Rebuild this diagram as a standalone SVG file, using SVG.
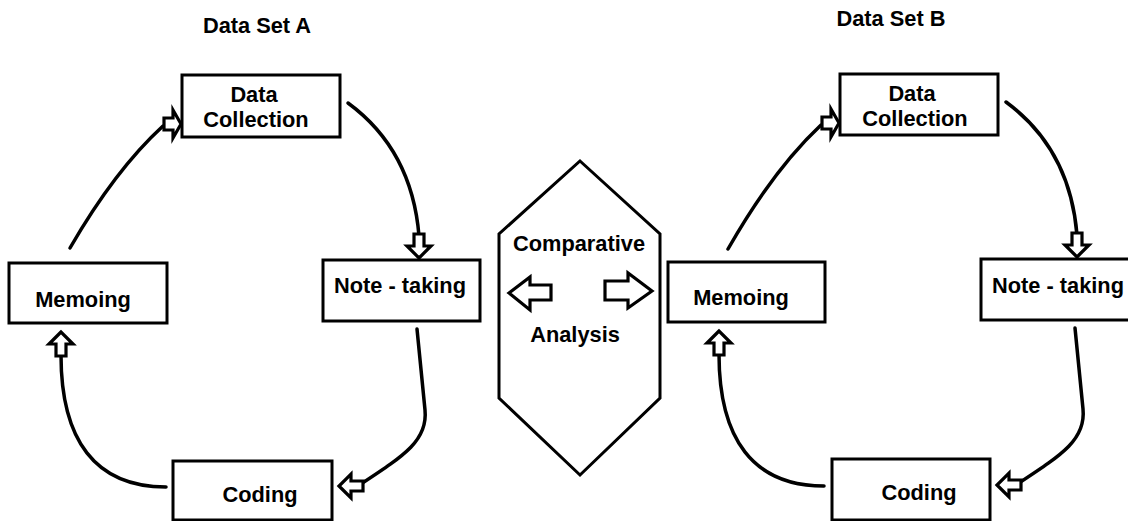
<svg xmlns="http://www.w3.org/2000/svg" width="1128" height="521" viewBox="0 0 1128 521">
<style>
.box{fill:#fff;stroke:#000;stroke-width:3}
.t{font-family:"Liberation Sans",Arial,sans-serif;font-weight:bold;font-size:21.8px;fill:#000;text-anchor:middle}
.ln{fill:none;stroke:#000;stroke-width:3.5;stroke-linecap:round}
.ah{fill:#fff;stroke:#000;stroke-width:3.2;stroke-linejoin:miter}
</style>
<defs>
<polygon id="arr" points="0,0 -12,-12 -12,-5 -24,-5 -24,5 -12,5 -12,12"/>
<polygon id="arrTall" points="0,0 -8,-14 -8,-6 -17,-6 -17,6 -8,6 -8,14"/>
</defs>
<rect width="1128" height="521" fill="#fff"/>
<text class="t" x="257" y="33">Data Set A</text>
<text class="t" x="891" y="26">Data Set B</text>

<g id="connectors">
<path class="ln" d="M70,248 Q115,170 163,126"/>
<path class="ln" d="M348,103 Q412,150 419,236"/>
<path class="ln" d="M417,329 L425,410 C428,440 405,455 361,484"/>
<path class="ln" d="M166,487 C95,487 61,440 61,355"/>
<path class="ln" d="M728,249 Q773,170 821,125"/>
<path class="ln" d="M1006,102 Q1070,149 1077,235"/>
<path class="ln" d="M1075,328 L1083,409 C1086,439 1063,454 1019,483"/>
<path class="ln" d="M824,486 C753,486 719,439 719,354"/>
<use href="#arrTall" class="ah" transform="translate(181,124)"/>
<use href="#arr" class="ah" transform="translate(419,258) rotate(90)"/>
<use href="#arr" class="ah" transform="translate(339,486) rotate(180)"/>
<use href="#arr" class="ah" transform="translate(61,332) rotate(-90)"/>
<use href="#arrTall" class="ah" transform="translate(839,123)"/>
<use href="#arr" class="ah" transform="translate(1077,257) rotate(90)"/>
<use href="#arr" class="ah" transform="translate(997,485) rotate(180)"/>
<use href="#arr" class="ah" transform="translate(719,331) rotate(-90)"/>
</g>

<g id="a-data-collection">
<rect class="box" x="182" y="75" width="158" height="62"/>
<text class="t" x="254" y="102">Data</text>
<text class="t" x="256" y="127">Collection</text>
</g>
<g id="a-note-taking">
<rect class="box" x="323" y="260" width="157" height="61"/>
<text class="t" x="400" y="293">Note - taking</text>
</g>
<g id="a-coding">
<rect class="box" x="173" y="461" width="159" height="59"/>
<text class="t" x="260" y="502">Coding</text>
</g>
<g id="a-memoing">
<rect class="box" x="9" y="263" width="158" height="60"/>
<text class="t" x="83" y="307">Memoing</text>
</g>

<g id="comparative-analysis">
<polygon points="580,161 660,234 660,398 580,475 499,398 499,234" fill="#fff" stroke="#000" stroke-width="3" stroke-linejoin="miter"/>
<text class="t" x="579" y="251">Comparative</text>
<text class="t" x="575" y="342">Analysis</text>
<polygon class="ah" points="509,293 530,277 530,285 551,285 551,300 530,300 530,310"/>
<polygon class="ah" points="652,291 628,273 628,281 605,281 605,300 628,300 628,308"/>
</g>

<g id="b-data-collection">
<rect class="box" x="840" y="74" width="158" height="61"/>
<text class="t" x="912" y="101">Data</text>
<text class="t" x="915" y="126">Collection</text>
</g>
<g id="b-note-taking">
<rect class="box" x="981" y="259" width="150" height="61"/>
<text class="t" x="1058" y="293">Note - taking</text>
</g>
<g id="b-coding">
<rect class="box" x="832" y="459" width="158" height="61"/>
<text class="t" x="919" y="500">Coding</text>
</g>
<g id="b-memoing">
<rect class="box" x="668" y="262" width="157" height="60"/>
<text class="t" x="741" y="305">Memoing</text>
</g>
</svg>
